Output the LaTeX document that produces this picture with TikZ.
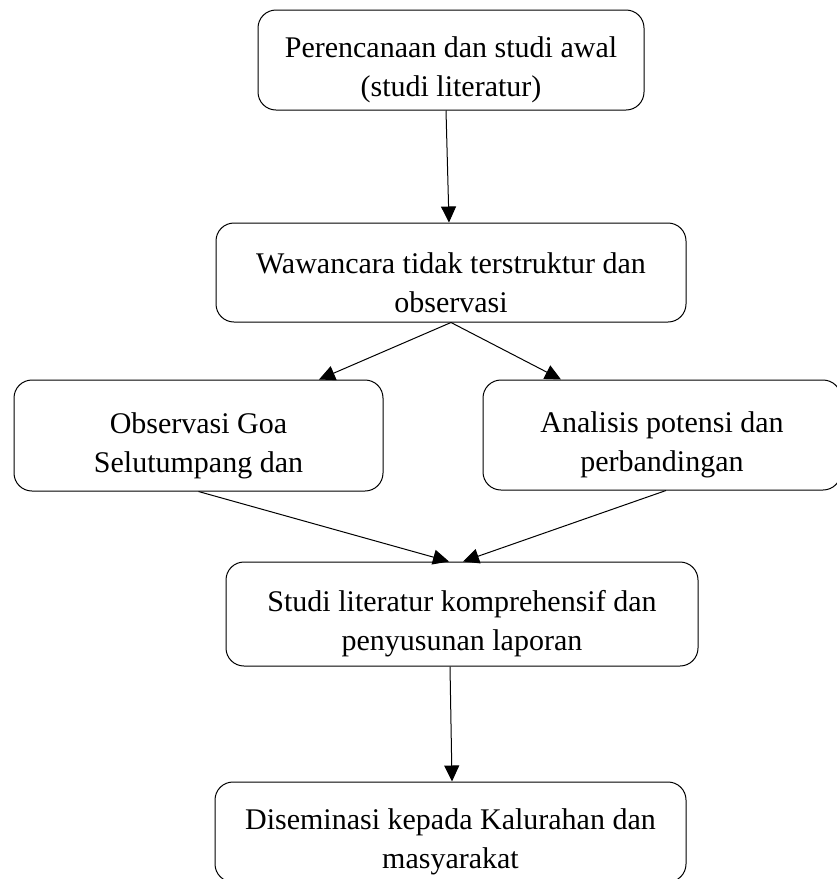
\documentclass[tikz,border=0pt]{standalone}
\usepackage{fontspec}
\setmainfont{Liberation Serif}
\usetikzlibrary{arrows.meta,positioning}

\tikzset{
  stage/.style={draw, rounded corners=18pt, line width=1pt, align=center, inner sep=0pt,
                font=\fontsize{30}{39}\selectfont, text height=80pt},
  flow/.style={-{Triangle[length=16pt,width=15pt]}, line width=1pt}
}

\begin{document}
\begin{tikzpicture}[on grid, >=Triangle]
   \useasboundingbox (0pt,0pt) rectangle (837pt,-879pt);
   \node[stage, minimum width=386pt, minimum height=100pt] (plan) at (451pt,-60pt) {Perencanaan dan studi awal\\(studi literatur)};
   \node[stage, minimum width=470pt, minimum height=99pt]  (wawancara) [below=212.5pt of plan] {Wawancara tidak terstruktur dan\\observasi};
   \node[stage, minimum width=369pt, minimum height=111pt] (goa)    [below left=163pt and 252.5pt of wawancara] {Observasi Goa\\Selutumpang dan};
   \node[stage, minimum width=358pt, minimum height=110pt] (potensi) [below right=162.5pt and 211pt of wawancara] {Analisis potensi dan\\perbandingan};
   \node[stage, minimum width=472pt, minimum height=104pt] (laporan) [below right=341.5pt and 11pt of wawancara] {Studi literatur komprehensif dan\\penyusunan laporan};
   \node[stage, minimum width=471pt, minimum height=100pt] (diseminasi) [below left=218pt and 11.5pt of laporan] {Diseminasi kepada Kalurahan dan\\masyarakat};
   % connectors
   \draw[flow] ([xshift=-5pt]plan.south)     -- ([xshift=-2pt]wawancara.north);
   \draw[flow] (wawancara.south)             -- ([xshift=120.5pt]goa.north);
   \draw[flow] (wawancara.south)             -- ([xshift=-101pt]potensi.north);
   \draw[flow] (goa.south)                   -- ([xshift=-13pt]laporan.north);
   \draw[flow] ([xshift=4pt]potensi.south)   -- ([xshift=1pt]laporan.north);
   \draw[flow] ([xshift=-12pt]laporan.south) -- ([xshift=1.5pt]diseminasi.north);
\end{tikzpicture}
\end{document}
